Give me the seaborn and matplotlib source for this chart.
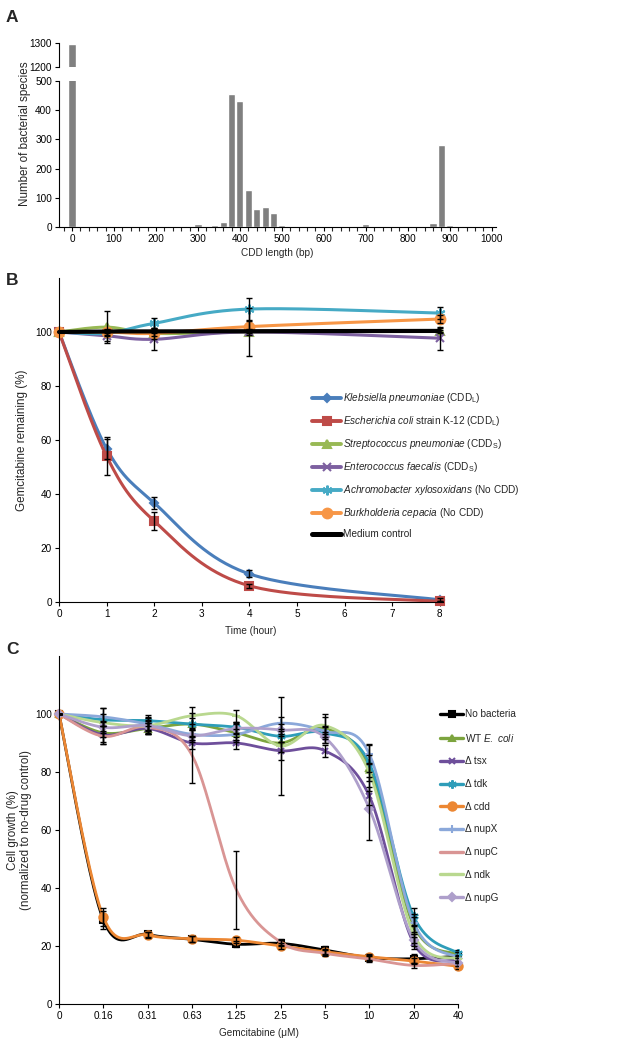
import numpy as np
import pandas as pd
import matplotlib
matplotlib.use("Agg")
import matplotlib.pyplot as plt
from matplotlib.lines import Line2D
from matplotlib.ticker import MultipleLocator
from matplotlib import font_manager
import seaborn as sns

# ---- panel A: CDD length distribution ----
cdd_len = list(range(0, 1000, 20))
n_species = [1295, 0, 0, 0, 0, 2, 0, 0, 0, 0,
             0, 2, 0, 0, 2, 10, 3, 7, 16, 455,
             432, 128, 63, 69, 48, 6, 5, 2, 0, 3,
             0, 0, 0, 0, 2, 10, 0, 0, 0, 0,
             2, 0, 0, 15, 280, 7, 5, 2, 2, 0]

# ---- panel B: gemcitabine remaining over time ----
time_h = [0, 1, 2, 4, 8]
kleb = [100, 56.8, 36.7, 10.4, 0.8]
ecoli = [100, 54.0, 30.0, 6.0, 0.2]
strep = [100, 101.8, 99.5, 100.0, 100.5]
entero = [100, 98.6, 97.3, 100.0, 97.7]
achromo = [100, 99.5, 103.2, 108.5, 107.0]
burk = [100, 100.0, 99.5, 102.0, 104.8]
medium = [100, 100.2, 100.2, 100.3, 100.4]
kleb_err = [0, 3.7, 2.2, 1.3, 0.5]
ecoli_err = [0, 7.0, 3.5, 0.8, 0.3]
strep_err = [0, 5.8, 2.0, 1.0, 1.0]
entero_err = [0, 2.0, 4.0, 9.0, 4.3]
achromo_err = [0, 1.0, 2.0, 4.0, 2.2]
burk_err = [0, 1.0, 1.0, 2.0, 1.5]
medium_err = [0, 0.5, 0.5, 0.5, 0.5]

# ---- panel C: cell growth vs gemcitabine ----
conc_labels = ["0", "0.16", "0.31", "0.63", "1.25", "2.5", "5", "10", "20", "40"]
no_bact = [100, 29.0, 24.0, 22.3, 20.6, 20.9, 18.6, 16.0, 15.6, 16.5]
wt_ecoli = [100, 93.5, 95.0, 96.5, 93.5, 90.0, 95.0, 81.5, 27.0, 17.0]
d_tsx = [100, 92.8, 95.0, 90.0, 90.0, 87.3, 87.3, 71.7, 21.0, 15.0]
d_tdk = [100, 98.0, 97.7, 96.5, 95.4, 92.3, 93.5, 83.0, 30.2, 17.5]
d_cdd = [100, 30.0, 23.8, 22.5, 22.0, 20.0, 18.0, 16.3, 14.8, 13.0]
d_nupx = [100, 99.0, 96.5, 93.0, 93.0, 96.8, 94.0, 86.2, 28.0, 16.0]
d_nupc = [100, 92.3, 95.5, 85.8, 39.4, 21.3, 17.5, 15.5, 13.3, 14.0]
d_ndk = [100, 97.0, 96.0, 99.4, 99.4, 89.0, 96.0, 79.8, 24.0, 15.5]
d_nupg = [100, 95.4, 96.0, 92.5, 95.0, 94.5, 91.9, 67.4, 22.0, 14.0]
no_bact_err = [0, 3.0, 1.0, 1.0, 1.0, 1.0, 1.5, 1.0, 1.5, 1.5]
wt_ecoli_err = [0, 4.0, 2.0, 4.0, 3.0, 3.0, 5.0, 8.0, 3.0, 1.0]
d_tsx_err = [0, 3.0, 2.0, 2.0, 2.0, 3.0, 2.0, 3.0, 2.0, 1.0]
d_tdk_err = [0, 2.0, 2.0, 2.0, 2.0, 2.0, 2.0, 3.0, 3.0, 1.0]
d_cdd_err = [0, 3.0, 1.0, 1.0, 1.0, 1.0, 1.0, 1.0, 1.0, 1.0]
d_nupx_err = [0, 3.0, 2.0, 2.0, 2.0, 2.0, 2.0, 3.0, 3.0, 1.0]
d_nupc_err = [0, 2.0, 2.0, 9.5, 13.5, 1.0, 1.0, 1.0, 1.0, 1.0]
d_ndk_err = [0, 5.0, 3.0, 3.0, 2.0, 17.0, 3.0, 3.0, 3.0, 1.0]
d_nupg_err = [0, 2.0, 2.0, 2.0, 2.0, 2.0, 2.0, 11.0, 2.0, 1.0]

# the figure text is narrow (Arial Narrow-like); use Liberation Sans Narrow if present
names = {f.name for f in font_manager.fontManager.ttflist}
NARROW = "Liberation Sans Narrow" if "Liberation Sans Narrow" in names else "Liberation Sans"

sns.set_style("ticks")
plt.rcParams["font.family"] = [NARROW, "Liberation Sans", "DejaVu Sans"]
plt.rcParams["mathtext.fontset"] = "custom"
plt.rcParams["mathtext.rm"] = NARROW
plt.rcParams["mathtext.it"] = NARROW + ":italic"
plt.rcParams["axes.linewidth"] = 0.8
plt.rcParams["axes.edgecolor"] = "black"

if NARROW == "Liberation Sans":
    TICK, LEG = 7.2, 7.2
else:
    TICK, LEG = 8.4, 8.6
VLAB = 8.4   # rotated axis labels, regular width

W, H = 634, 1050
fig = plt.figure(figsize=(W / 100, H / 100), dpi=100)


def box(x0, y0, x1, y1):
    return [x0 / W, 1 - y1 / H, (x1 - x0) / W, (y1 - y0) / H]


def smooth(xs, ys, n=40):
    # excel-style smoothed line (bezier through the points)
    p = np.column_stack([xs, ys]).astype(float)
    out = [p[:1]]
    t = np.linspace(0, 1, n)[1:, None]
    for i in range(len(p) - 1):
        p0, p1 = p[max(i - 1, 0)], p[i]
        p2, p3 = p[i + 1], p[min(i + 2, len(p) - 1)]
        c1 = p1 + (p2 - p0) / 6
        c2 = p2 - (p3 - p1) / 6
        out.append((1 - t) ** 3 * p1 + 3 * (1 - t) ** 2 * t * c1
                   + 3 * (1 - t) * t ** 2 * c2 + t ** 3 * p2)
    s = np.vstack(out)
    return s[:, 0], s[:, 1]


def style(ax):
    sns.despine(ax=ax)
    ax.tick_params(direction="out", length=3, width=0.8, labelsize=TICK, pad=2,
                   colors="black")
    ax.tick_params(which="minor", direction="out", length=3, width=0.8)


# ---------------- A ----------------
axA_top = fig.add_axes(box(59, 43, 496, 67))
axA = fig.add_axes(box(59, 81, 496, 227))
dfA = pd.DataFrame({"len": cdd_len, "n": n_species})
for ax in (axA_top, axA):
    sns.barplot(data=dfA, x="len", y="n", native_scale=True, width=0.85,
                color="#808080", saturation=1, errorbar=None, ax=ax)
    ax.set_xlim(-31, 1010)
    ax.set_xlabel("")
    ax.set_ylabel("")
    style(ax)
axA_top.set_ylim(1200, 1300)
axA_top.set_yticks([1200, 1300])
axA_top.spines["bottom"].set_visible(False)
axA_top.set_xticks([])
axA.set_ylim(0, 500)
axA.set_yticks(range(0, 501, 100))
axA.set_xticks(range(0, 1001, 100))
axA.xaxis.set_minor_locator(MultipleLocator(20))
axA.set_xlabel("CDD length (bp)", fontsize=TICK, labelpad=3)
fig.text(25 / W, 1 - 134 / H, "Number of bacterial species", rotation=90,
         ha="center", va="center", fontsize=VLAB, family="Liberation Sans")

# ---------------- B ----------------
axB = fig.add_axes(box(59, 278, 443, 602))
seriesB = [
    (kleb, kleb_err, "#4A7EBB", "D", 4, r"$\it{Klebsiella\ pneumoniae}$ (CDD$_\mathregular{L}$)"),
    (ecoli, ecoli_err, "#BE4B48", "s", 6, r"$\it{Escherichia\ coli}$ strain K-12 (CDD$_\mathregular{L}$)"),
    (strep, strep_err, "#98B954", "^", 6, r"$\it{Streptococcus\ pneumoniae}$ (CDD$_\mathregular{S}$)"),
    (entero, entero_err, "#7D60A0", "x", 6, r"$\it{Enterococcus\ faecalis}$ (CDD$_\mathregular{S}$)"),
    (achromo, achromo_err, "#46AAC5", (6, 2, 0), 7, r"$\it{Achromobacter\ xylosoxidans}$ (No CDD)"),
    (burk, burk_err, "#F79646", "o", 7, r"$\it{Burkholderia\ cepacia}$ (No CDD)"),
    (medium, medium_err, "black", None, 0, "Medium control"),
]
handlesB = []
for vals, err, col, mk, ms, lab in seriesB:
    lw = 3.0 if col == "black" else 2.2
    sx, sy = smooth(time_h, vals)
    sns.lineplot(x=sx, y=sy, sort=False, estimator=None, color=col,
                 linewidth=lw, ax=axB, clip_on=False)
    if mk is not None:
        axB.plot(time_h, vals, linestyle="none", marker=mk, ms=ms, color=col,
                 mec=col, mew=1.5, clip_on=False)
    handlesB.append(Line2D([], [], color=col, lw=lw + 0.6, marker=mk, ms=ms,
                           mec=col, mew=1.5, label=lab))
for vals, err, col, mk, ms, lab in seriesB:
    axB.errorbar(time_h, vals, yerr=err, fmt="none", ecolor="black",
                 elinewidth=1, capsize=2.5, capthick=1, zorder=5)
axB.set_xlim(0, 8.07)
axB.set_ylim(0, 120)
axB.set_yticks(range(0, 101, 20))
axB.set_xticks(range(0, 9))
style(axB)
axB.set_xlabel("Time (hour)", fontsize=TICK, labelpad=5)
axB.set_ylabel("Gemcitabine remaining (%)", fontsize=VLAB, labelpad=5,
               family="Liberation Sans")
axB.legend(handles=handlesB, loc="upper left",
           bbox_to_anchor=(312 / W, 1 - 391 / H), bbox_transform=fig.transFigure,
           frameon=False, fontsize=LEG, handlelength=2.9, handletextpad=0.2,
           labelspacing=0.9, borderpad=0, borderaxespad=0)

# ---------------- C ----------------
axC = fig.add_axes(box(59, 656, 458, 1004))
xpos = list(range(len(conc_labels)))
seriesC = [
    (no_bact, no_bact_err, "black", "s", 5, "No bacteria"),
    (wt_ecoli, wt_ecoli_err, "#7CA43E", "^", 5, r"WT $\it{E.}$ $\it{coli}$"),
    (d_tsx, d_tsx_err, "#6E4F9B", "x", 5, "Δ tsx"),
    (d_tdk, d_tdk_err, "#2E9DB9", (6, 2, 0), 6, "Δ tdk"),
    (d_cdd, d_cdd_err, "#EC8733", "o", 6, "Δ cdd"),
    (d_nupx, d_nupx_err, "#8BA8DA", "+", 6, "Δ nupX"),
    (d_nupc, d_nupc_err, "#D99594", None, 0, "Δ nupC"),
    (d_ndk, d_ndk_err, "#B9D88F", "_", 6, "Δ ndk"),
    (d_nupg, d_nupg_err, "#AE9FCB", "D", 4, "Δ nupG"),
]
handlesC = []
for vals, err, col, mk, ms, lab in seriesC:
    sx, sy = smooth(xpos, vals)
    sns.lineplot(x=sx, y=sy, sort=False, estimator=None, color=col,
                 linewidth=2.0, ax=axC, clip_on=False)
    if mk is not None:
        axC.plot(xpos, vals, linestyle="none", marker=mk, ms=ms, color=col,
                 mec=col, mew=1.5, clip_on=False)
    handlesC.append(Line2D([], [], color=col, lw=2.4, marker=mk, ms=ms,
                           mec=col, mew=1.5, label=lab))
for vals, err, col, mk, ms, lab in seriesC:
    axC.errorbar(xpos, vals, yerr=err, fmt="none", ecolor="black",
                 elinewidth=1, capsize=2.5, capthick=1, zorder=5)
axC.set_xlim(0, 9)
axC.set_ylim(0, 120)
axC.set_yticks(range(0, 101, 20))
axC.set_xticks(xpos)
axC.set_xticklabels(conc_labels)
style(axC)
axC.set_xlabel("Gemcitabine (μM)", fontsize=TICK, labelpad=5)
axC.set_ylabel("Cell growth (%)\n(normalized to no-drug control)", fontsize=VLAB,
               labelpad=2, linespacing=1.15, family="Liberation Sans")
axC.legend(handles=handlesC, loc="upper left",
           bbox_to_anchor=(440 / W, 1 - 709 / H), bbox_transform=fig.transFigure,
           frameon=False, fontsize=LEG, handlelength=2.3, handletextpad=0.2,
           labelspacing=1.27, borderpad=0, borderaxespad=0)

for lab, yb in (("A", 22), ("B", 285), ("C", 654)):
    fig.text(6 / W, 1 - yb / H, lab, fontsize=12.5, fontweight="bold",
             va="baseline", ha="left", family="Liberation Sans")

fig.savefig("out.png", dpi=100)
